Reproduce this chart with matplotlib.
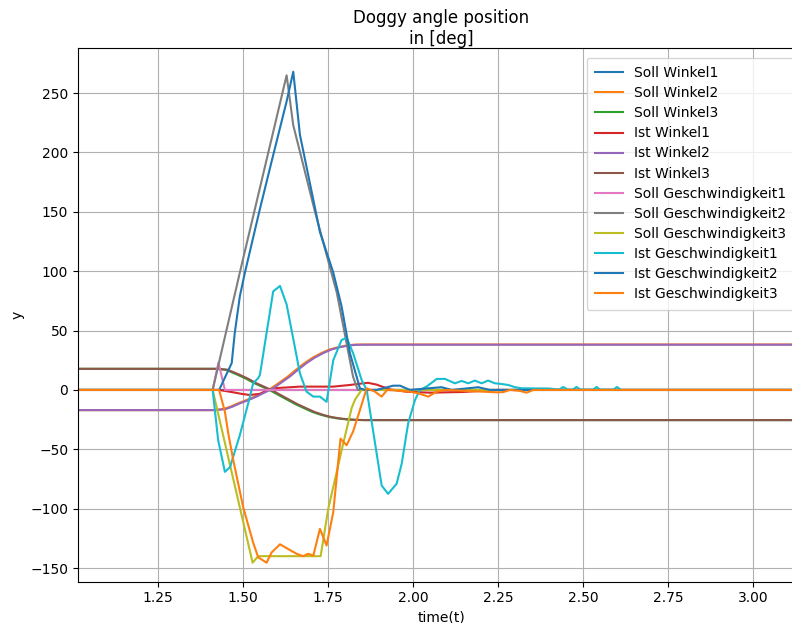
import matplotlib
matplotlib.use("Agg")
import matplotlib.pyplot as plt
from matplotlib.ticker import MultipleLocator

# time stamps [s] and values [deg]
t_end = 3.15

soll_w1_t = [1.015, t_end]
soll_w1 = [0, 0]

soll_w2_t = [1.015, 1.414, 1.444, 1.464, 1.485, 1.509, 1.534, 1.559, 1.583, 1.607, 1.632, 1.656, 1.681, 1.705, 1.730, 1.754, 1.779, 1.804, 1.828, 1.854, t_end]
soll_w2 = [-17, -17, -16, -14, -11.3, -8.7, -5.6, -2, 1.4, 6.2, 11.3, 17, 22.6, 27.2, 31, 34, 36, 37.4, 38.2, 38.3, 38.3]

soll_w3_t = [1.015, 1.420, 1.450, 1.485, 1.509, 1.534, 1.559, 1.583, 1.607, 1.632, 1.656, 1.681, 1.705, 1.730, 1.754, 1.779, 1.804, 1.828, 1.854, t_end]
soll_w3 = [17.8, 17.8, 17.0, 12.7, 9.5, 5.6, 2.4, -0.8, -4.6, -8.5, -12.2, -15.5, -18.6, -21, -22.8, -24, -24.8, -25.2, -25.4, -25.4]

ist_w1_t = [1.015, 1.43, 1.4715, 1.50, 1.52, 1.55, 1.589, 1.6676, 1.7656, 1.8147, 1.854, 1.868, 1.893, 1.932, 1.981, 2.05, 2.148, 2.246, t_end]
ist_w1 = [0, 0, -2, -3.5, -4.2, -3.3, 1.4, 2.8, 2.8, 4.2, 5.6, 6, 4.5, 0.5, -1.5, -2.3, -1.7, 0, 0]

ist_w2_t = [1.015, 1.42, 1.45, 1.47, 1.491, 1.515, 1.540, 1.565, 1.589, 1.613, 1.638, 1.662, 1.687, 1.711, 1.736, 1.760, 1.785, 1.81, 1.834, 1.86, t_end]
ist_w2 = [-17, -17, -16, -14, -11.3, -8.7, -5.6, -2, 1.4, 6.2, 11.3, 17, 22.6, 27.2, 31, 34, 36, 37.4, 38, 38.1, 38.1]

ist_w3_t = [1.015, 1.425, 1.455, 1.491, 1.515, 1.540, 1.565, 1.589, 1.613, 1.638, 1.662, 1.687, 1.711, 1.736, 1.760, 1.785, 1.81, 1.834, 1.86, t_end]
ist_w3 = [17.8, 17.8, 17.0, 12.7, 9.5, 5.6, 2.4, -0.8, -4.6, -8.5, -12.2, -15.5, -18.6, -21, -22.8, -24, -24.8, -25.2, -25.4, -25.4]

soll_g1_t = [1.015, 1.411, 1.428, 1.447, t_end]
soll_g1 = [0, 0, 23, 0, 0]

soll_g2_t = [1.015, 1.411, 1.491, 1.6285, 1.648, 1.712, 1.776, 1.824, 1.838, t_end]
soll_g2 = [0, 0, 99, 265, 223, 150, 82, 11, 0, 0]

soll_g3_t = [1.015, 1.411, 1.5285, 1.545, 1.7285, 1.751, 1.795, 1.82, 1.83, 1.849, t_end]
soll_g3 = [0, 0, -145.5, -140, -140, -100, -45, -15, -8, 0, 0]

ist_g1_t = [1.015, 1.411, 1.427, 1.447, 1.462, 1.491, 1.5206, 1.530, 1.545, 1.55, 1.589, 1.609, 1.6285,
            1.6676, 1.687, 1.707, 1.7265, 1.746, 1.7656, 1.790, 1.805, 1.824, 1.849, 1.864, 1.908, 1.927,
            1.952, 1.967, 1.986, 2.006, 2.0206, 2.040, 2.070, 2.094, 2.1235, 2.143, 2.1626, 2.182, 2.202,
            2.221, 2.241, 2.261, 2.280, 2.300, 2.3197, 2.40, 2.43, 2.442, 2.455, 2.47, 2.481, 2.492,
            2.53, 2.540, 2.55, 2.59, 2.60, 2.612, t_end]
ist_g1 = [0, 0, -42, -69, -65, -38, -5.7, 5.6, 10, 12.7, 83, 87.6, 72,
          14, -1.4, -5.6, -5.6, -10, 25, 42, 44, 31, 8.5, 0, -80.5, -87.5,
          -79, -62, -28, -8.5, 0, 2.8, 9.3, 9.3, 5.6, 7.6, 5.6, 7.9, 5.6,
          7.9, 5.6, 5, 4.2, 2.3, 1.4, 1.2, 0.3, 2.5, 0.3, 0.3, 2.5, 0.3,
          0.3, 2.5, 0.3, 0.3, 2.5, 0, 0]

ist_g2_t = [1.015, 1.430, 1.467, 1.476, 1.491, 1.506, 1.55, 1.584, 1.6285, 1.648, 1.6676, 1.7265,
            1.7656, 1.790, 1.8147, 1.844, 1.859, 1.893, 1.942, 1.962, 1.991, 2.030, 2.084, 2.114,
            2.192, 2.226, t_end]
ist_g2 = [0, 0, 22.6, 48, 79, 99, 152.5, 192, 243, 268, 215, 133,
          99, 70.6, 31, 1.4, 0, 0, 3.6, 3.6, 0, 1, 2.3, 0,
          2.3, 0, 0]

ist_g3_t = [1.015, 1.43, 1.447, 1.457, 1.4715, 1.501, 1.530, 1.545, 1.5697, 1.584, 1.609, 1.633, 1.658,
            1.677, 1.692, 1.707, 1.7265, 1.746, 1.7656, 1.787, 1.805, 1.824, 1.844, 1.864, 1.888, 1.908,
            1.924, 1.952, 1.991, 2.015, 2.045, 2.070, 2.099, 2.246, 2.2656, 2.285, 2.3147, 2.334, 2.354, t_end]
ist_g3 = [0, 0, -18.4, -36.7, -59, -99, -128.5, -141, -145.5, -137, -130, -134, -138,
          -140, -138, -139.5, -117, -131, -103, -41, -46.6, -35, -17, 1.4, -1.4, -5.6,
          0, -0.5, -1.4, -2.8, -5.6, -1.4, 0, -2, -1.8, 0, -0.8, -2.3, 0, 0]

fig = plt.figure(figsize=(7.92, 6.23), dpi=100)
ax = fig.add_axes([78 / 792, 41.3 / 623, 726 / 792, 533.7 / 623])

plt.plot(soll_w1_t, soll_w1, label="Soll Winkel1")
plt.plot(soll_w2_t, soll_w2, label="Soll Winkel2")
plt.plot(soll_w3_t, soll_w3, label="Soll Winkel3")
plt.plot(ist_w1_t, ist_w1, label="Ist Winkel1")
plt.plot(ist_w2_t, ist_w2, label="Ist Winkel2")
plt.plot(ist_w3_t, ist_w3, label="Ist Winkel3")
plt.plot(soll_g1_t, soll_g1, label="Soll Geschwindigkeit1")
plt.plot(soll_g2_t, soll_g2, label="Soll Geschwindigkeit2")
plt.plot(soll_g3_t, soll_g3, label="Soll Geschwindigkeit3")
plt.plot(ist_g1_t, ist_g1, label="Ist Geschwindigkeit1")
plt.plot(ist_g2_t, ist_g2, label="Ist Geschwindigkeit2")
plt.plot(ist_g3_t, ist_g3, label="Ist Geschwindigkeit3")

plt.title("Doggy angle position\nin [deg]", pad=2.5)
plt.xlabel("time(t)")
plt.ylabel("y")
plt.xlim(1.015, t_end)
plt.ylim(-161.5, 288)
ax.yaxis.set_major_locator(MultipleLocator(50))
plt.grid()
plt.legend(loc="upper right", labelspacing=0.44, borderpad=0.6, borderaxespad=0.7)

plt.savefig("out.png", dpi=100)
